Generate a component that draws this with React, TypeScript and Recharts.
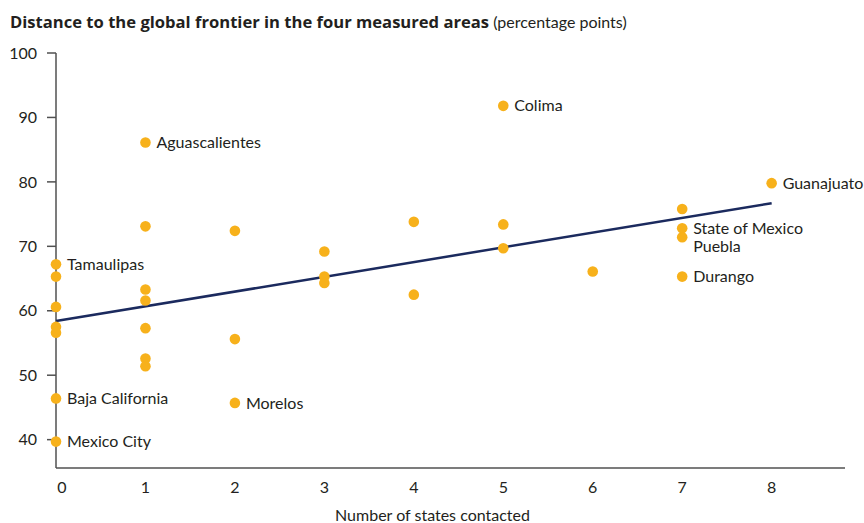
import React from 'react';
import {
  ScatterChart,
  Scatter,
  XAxis,
  YAxis,
  LabelList,
} from 'recharts';

// states contacted (x) vs distance to frontier (y)
const contacts = [0, 0, 0, 0, 0, 0, 0, 1, 1, 1, 1, 1, 1, 1, 2, 2, 2, 3, 3, 3, 4, 4, 5, 5, 5, 6, 7, 7, 7, 7, 8];
const distance = [67.2, 65.3, 60.6, 57.5, 56.6, 46.4, 39.7, 86.1, 73.1, 63.3, 61.6, 57.3, 52.6, 51.4, 72.4, 55.6, 45.7, 69.2, 65.3, 64.3, 73.8, 62.5, 91.8, 73.4, 69.7, 66.1, 75.8, 72.8, 71.4, 65.3, 79.8];
const stateNames = [
  'Tamaulipas', '', '', '', '', 'Baja California', 'Mexico City',
  'Aguascalientes', '', '', '', '', '', '',
  '', '', 'Morelos',
  '', '', '',
  '', '',
  'Colima', '', '',
  '',
  '', 'State of Mexico', 'Puebla', 'Durango',
  'Guanajuato',
];

// fitted line end points
const fitX = [0, 8];
const fitY = [58.4, 76.7];

const xTicks = [0, 1, 2, 3, 4, 5, 6, 7, 8];
const yTicks = [40, 50, 60, 70, 80, 90, 100];

const FONT = 'Lato, "Open Sans", sans-serif';
const TEXT = '#231f20';
const DOT = '#f7b11b';
const NAVY = '#1b2a5e';
const AXIS = '#505050';

const points = contacts.map((x, i) => ({ x, y: distance[i], name: stateNames[i] }));
const fitData = fitX.map((x, i) => ({ x, y: fitY[i] }));

// label nudges so overlapping names stay readable
const labelDy: Record<string, number> = { Puebla: 9 };

const XTick = (props: any) => {
  const { x, y, payload } = props;
  const shift = payload.value === 0 ? 6 : 0;
  return (
    <text x={x + shift} y={y + 23} textAnchor="middle" fill={TEXT} fontSize={16} fontFamily={FONT}>
      {payload.value}
    </text>
  );
};

const Dot = (props: any) => <circle cx={props.cx} cy={props.cy} r={5.3} fill={DOT} />;

const PointLabel = (props: any) => {
  const { x, y, width, height, value } = props;
  if (!value) return null;
  const cx = x + width / 2;
  const cy = y + height / 2 + (labelDy[value] || 0);
  return (
    <text x={cx + 11} y={cy} dy="0.35em" fill={TEXT} fontSize={16} fontFamily={FONT}>
      {value}
    </text>
  );
};

export default function App() {
  return (
    <div style={{ position: 'absolute', left: 0, top: 0, width: 864, height: 523, background: '#fff' }}>
      <div
        style={{
          position: 'absolute',
          left: 10,
          top: 10,
          fontFamily: FONT,
          fontSize: 16,
          color: TEXT,
          whiteSpace: 'nowrap',
        }}
      >
        <span style={{ fontWeight: 700, fontFamily: '"Open Sans", sans-serif', fontSize: 16.6 }}>
          Distance to the global frontier in the four measured areas
        </span>{' '}
        <span>(percentage points)</span>
      </div>
      <ScatterChart width={864} height={523} margin={{ top: 53, right: 19, left: 0, bottom: 0 }}>
        <XAxis
          type="number"
          dataKey="x"
          domain={[0, 8.82]}
          ticks={xTicks}
          tickLine={false}
          tickSize={0}
          tick={<XTick />}
          axisLine={{ stroke: AXIS, strokeWidth: 1.5 }}
          height={55}
          label={{
            value: 'Number of states contacted',
            position: 'insideBottom',
            offset: 2,
            dx: -18,
            fill: TEXT,
            fontSize: 16,
            fontFamily: FONT,
          }}
        />
        <YAxis
          type="number"
          dataKey="y"
          domain={[35.6, 100]}
          ticks={yTicks}
          width={56}
          tickSize={9}
          tickMargin={10}
          tickLine={{ stroke: AXIS, strokeWidth: 1.5 }}
          axisLine={{ stroke: AXIS, strokeWidth: 1.5 }}
          tick={{ fill: TEXT, fontSize: 16, fontFamily: FONT }}
        />
        <Scatter
          data={fitData}
          line={{ stroke: NAVY, strokeWidth: 2.5 }}
          shape={() => <g />}
          isAnimationActive={false}
        />
        <Scatter data={points} fill={DOT} shape={<Dot />} isAnimationActive={false}>
          <LabelList dataKey="name" content={<PointLabel />} />
        </Scatter>
      </ScatterChart>
    </div>
  );
}
